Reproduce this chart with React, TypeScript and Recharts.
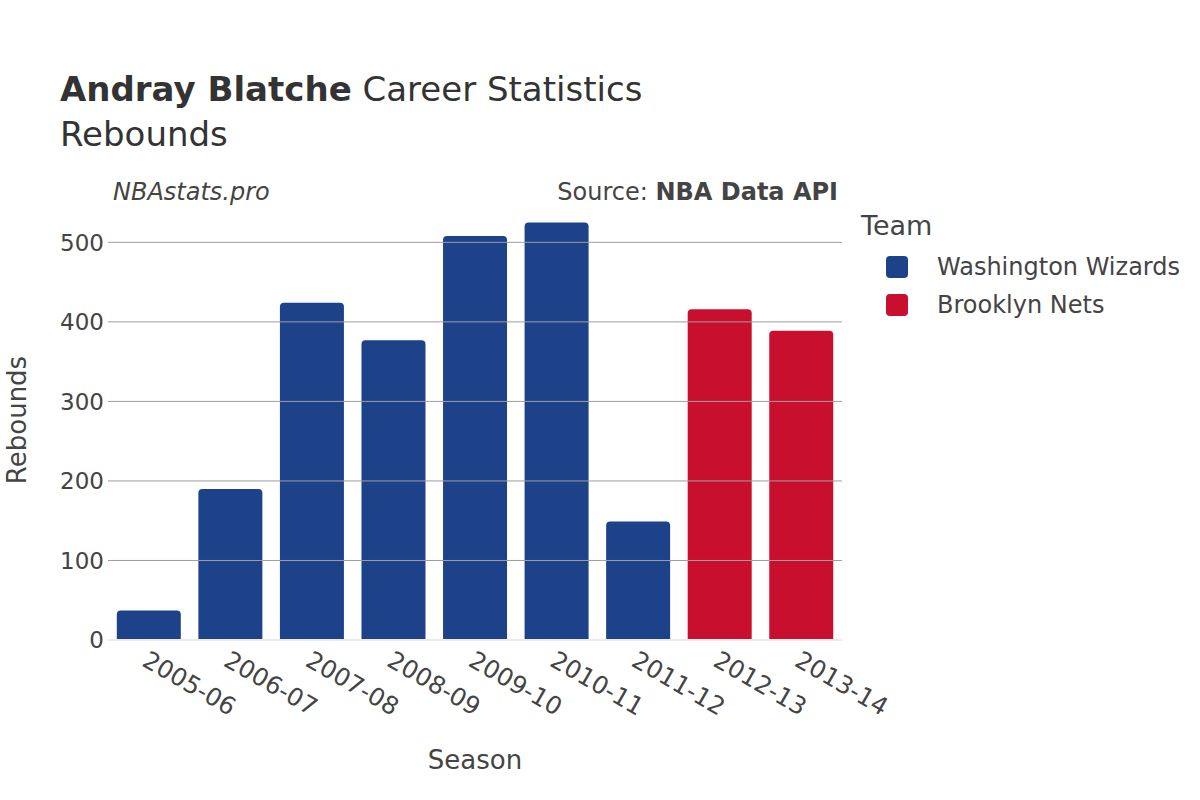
import React from 'react';
import { BarChart, Bar, Cell, XAxis, YAxis, ReferenceLine } from 'recharts';

const seasons = ['2005-06', '2006-07', '2007-08', '2008-09', '2009-10', '2010-11', '2011-12', '2012-13', '2013-14'];
const rebounds = [37, 190, 424, 377, 508, 525, 149, 416, 389];
const teams = ['Washington Wizards', 'Washington Wizards', 'Washington Wizards', 'Washington Wizards', 'Washington Wizards', 'Washington Wizards', 'Washington Wizards', 'Brooklyn Nets', 'Brooklyn Nets'];
const teamNames = ['Washington Wizards', 'Brooklyn Nets'];
const teamColors = ['#1D428A', '#C8102E'];
const yTicks = [0, 100, 200, 300, 400, 500];

const FONT = '"DejaVu Sans", sans-serif';

const data = seasons.map((s, i) => ({ season: s, rebounds: rebounds[i], team: teams[i] }));
const colorOf = (team: string) => teamColors[teamNames.indexOf(team)];

const SeasonTick = (props: any) => {
  const { x, y, payload } = props;
  const tx = x - 8;
  const ty = y + 25;
  return (
    <text x={tx} y={ty} transform={`rotate(30, ${tx}, ${ty})`} textAnchor="start"
      fill="#444" fontSize={24.5} fontFamily={FONT}>
      {payload.value}
    </text>
  );
};

export default function App() {
  return (
    <div style={{ position: 'absolute', left: 0, top: 0, width: 1200, height: 800, background: '#fff', fontFamily: FONT }}>
      <BarChart width={1200} height={800} data={data}
        margin={{ top: 201, right: 358, bottom: 0, left: 8 }} barCategoryGap="10.8%">
        <XAxis dataKey="season" height={160} axisLine={false} tickLine={false} tickSize={0} tickMargin={0}
          interval={0} tick={<SeasonTick />}
          label={{
            content: () => (
              <text x={475} y={769} textAnchor="middle" fill="#444" fontSize={26} fontFamily={FONT}>Season</text>
            ),
          }} />
        <YAxis width={100} domain={[0, 552]} ticks={yTicks} axisLine={false} tickLine={false} tickSize={0}
          tickMargin={4} tick={{ fill: '#444', fontSize: 23, fontFamily: FONT }}
          label={{
            content: () => (
              <text x={0} y={0} transform="translate(26, 420) rotate(-90)" textAnchor="middle"
                fill="#444" fontSize={26} fontFamily={FONT}>Rebounds</text>
            ),
          }} />
        {yTicks.filter((t) => t > 0).map((t) => (
          <ReferenceLine key={t} y={t} stroke="#9e9e9e" strokeWidth={1} />
        ))}
        <ReferenceLine y={0} stroke="#ebebeb" strokeWidth={2} />
        <Bar dataKey="rebounds" radius={[4, 4, 0, 0]} isAnimationActive={false}>
          {data.map((d, i) => (
            <Cell key={i} fill={colorOf(d.team)} />
          ))}
        </Bar>
      </BarChart>

      <div style={{ position: 'absolute', left: 60, top: 69, fontSize: 34, color: '#333', whiteSpace: 'nowrap', lineHeight: '40px' }}>
        <b>Andray Blatche</b> Career Statistics
      </div>
      <div style={{ position: 'absolute', left: 60, top: 114, fontSize: 34, color: '#333', lineHeight: '40px' }}>
        Rebounds
      </div>
      <div style={{ position: 'absolute', left: 113, top: 177, fontSize: 24, color: '#444', fontStyle: 'italic', lineHeight: '30px' }}>
        NBAstats.pro
      </div>
      <div style={{ position: 'absolute', right: 1200 - 838, top: 177, fontSize: 24, color: '#444', whiteSpace: 'nowrap', lineHeight: '30px' }}>
        Source: <b>NBA Data API</b>
      </div>

      <div style={{ position: 'absolute', left: 861, top: 210, fontSize: 27, color: '#444', lineHeight: '32px' }}>Team</div>
      {teamNames.map((t, i) => (
        <div key={t} style={{ position: 'absolute', left: 886, top: 252 + i * 38, height: 30, display: 'flex', alignItems: 'center', whiteSpace: 'nowrap' }}>
          <div style={{ width: 22, height: 22, borderRadius: 4, background: teamColors[i] }} />
          <span style={{ marginLeft: 29, fontSize: 24, color: '#444' }}>{t}</span>
        </div>
      ))}
    </div>
  );
}
